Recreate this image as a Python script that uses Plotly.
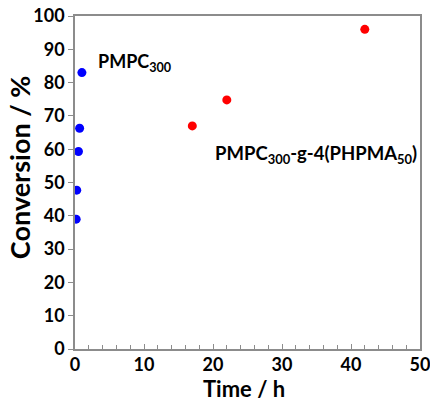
import plotly.graph_objects as go

pmpc_time = [0.17, 0.25, 0.5, 0.67, 1.0]
pmpc_conv = [39, 47.7, 59.3, 66.3, 83]
graft_time = [17, 22, 42]
graft_conv = [67, 74.8, 96]
x_ticks = [0, 10, 20, 30, 40, 50]
y_ticks = [0, 10, 20, 30, 40, 50, 60, 70, 80, 90, 100]

FONT = "Lato"
AXC = "#8c8c8c"

fig = go.Figure()
fig.add_trace(go.Scatter(x=pmpc_time, y=pmpc_conv, mode="markers",
                         marker=dict(color="#0000ff", size=9), showlegend=False))
fig.add_trace(go.Scatter(x=graft_time, y=graft_conv, mode="markers",
                         marker=dict(color="#ff0000", size=9), showlegend=False))

fig.add_annotation(x=3.1, y=86, xref="x", yref="y", text="<b>PMPC<sub>300</sub></b>",
                   showarrow=False, xanchor="left", yanchor="middle",
                   font=dict(family=FONT, size=18, color="black"))
fig.add_annotation(x=20.0, y=58.3, xref="x", yref="y",
                   text="<b>PMPC<sub>300</sub>-g-4(PHPMA<sub>50</sub>)</b>",
                   showarrow=False, xanchor="left", yanchor="middle",
                   font=dict(family=FONT, size=18.5, color="black"))
# axis titles
fig.add_annotation(x=0.491, y=-0.118, xref="paper", yref="paper", text="<b>Time / h</b>",
                   showarrow=False, xanchor="center", yanchor="middle",
                   font=dict(family=FONT, size=22, color="black"))
fig.add_annotation(x=-0.162, y=0.5465, xref="paper", yref="paper", text="<b>Conversion / %</b>",
                   showarrow=False, xanchor="center", yanchor="middle", textangle=-90,
                   font=dict(family=FONT, size=27, color="black"))

fig.update_layout(
    width=430, height=398,
    margin=dict(l=75, r=10, t=16, b=49),
    plot_bgcolor="white", paper_bgcolor="white",
    font=dict(family=FONT, color="black"),
)
fig.update_xaxes(range=[0, 50], tickvals=x_ticks, ticks="inside", ticklen=5,
                 tickcolor=AXC, showline=True, linecolor=AXC, linewidth=1.5,
                 mirror=True, showgrid=False, zeroline=False, automargin=False,
                 minor=dict(dtick=2, ticks="inside", ticklen=4, tickcolor=AXC),
                 ticklabelstandoff=-1, ticklabeloverflow="allow",
                 tickfont=dict(family=FONT, size=18, color="black", weight="bold"))
fig.update_yaxes(range=[0, 100], tickvals=y_ticks, ticks="outside", ticklen=5,
                 tickcolor=AXC, showline=True, linecolor=AXC, linewidth=1.5,
                 mirror=True, showgrid=False, zeroline=False, automargin=False,
                 ticklabeloverflow="allow",
                 tickfont=dict(family=FONT, size=18, color="black", weight="bold"))

fig.write_html("out.html", config={"displayModeBar": False},
               post_script="document.body.style.margin='0';")
